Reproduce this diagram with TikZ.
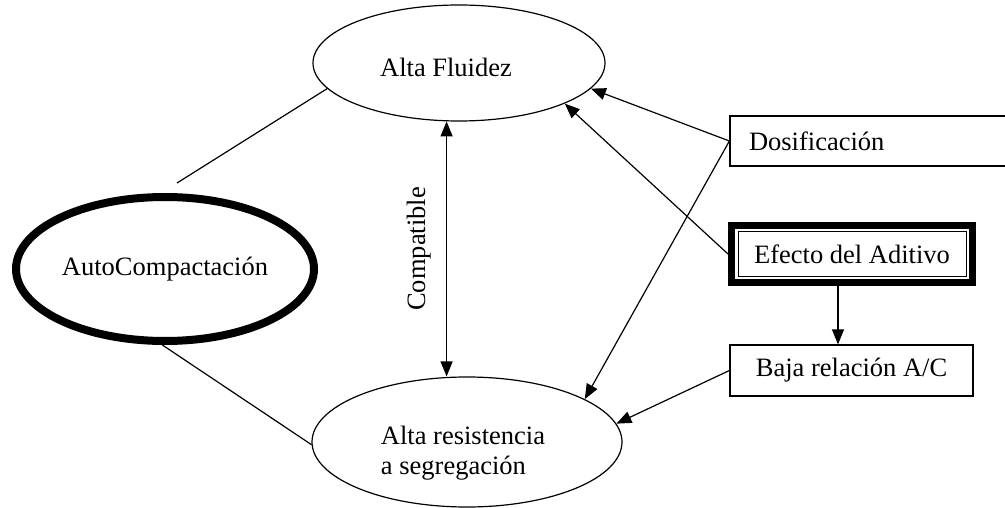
\documentclass[tikz,border=0pt]{standalone}
\usepackage{fontspec}
\setmainfont{Liberation Serif}
\usetikzlibrary{shapes.geometric,arrows.meta}
\begin{document}
\begin{tikzpicture}[x=1pt,y=-1pt,
  every node/.style={font=\fontsize{26.5}{30}\selectfont},
  oval/.style={draw, ellipse, inner sep=0pt, line width=1.2pt},
  box/.style={draw, rectangle, line width=1.2pt},
  conn/.style={line width=1.2pt},
  arr/.style={line width=1.2pt, -{Triangle[length=15pt,width=12pt]}},
]
\useasboundingbox (0,0) rectangle (1005,508);
\clip (0,0) rectangle (1005,508);
\fill[white] (0,0) rectangle (1005,508);

% ellipses
\node[oval, minimum width=292pt, minimum height=116pt] (fluidez) at (459,63) {};
\node at (446,67) {Alta Fluidez};
\node[oval, minimum width=310pt, minimum height=130pt] (res) at (467,442) {};
\node[align=left] at (463,453) {Alta resistencia\\a segregación};
\node[oval, line width=8pt, minimum width=298pt, minimum height=144pt] (auto) at (165,269) {AutoCompactación};

% boxes
\node[box, anchor=west, minimum height=50pt, text width=252pt, inner xsep=19pt, inner ysep=0pt, align=left] (dos) at (729.4,141) {Dosificación};
\node[box, line width=7pt, minimum width=241pt, minimum height=57pt, inner sep=0pt] (efecto) at (852,254) {Efecto del Aditivo};
\draw[line width=1pt] ([xshift=10pt,yshift=-10pt]efecto.north west) rectangle ([xshift=-10pt,yshift=10pt]efecto.south east);
\node[box, minimum width=243pt, minimum height=51pt, inner sep=0pt] (baja) at (851.5,370.5) {Baja relación A/C};

% connectors
\coordinate (afree) at (177,183);
\draw[conn] (afree) -- (fluidez.191);
\draw[conn] (auto.268) -- (res.181);
\draw[line width=1.2pt, {Triangle[length=15pt,width=12pt]}-{Triangle[length=15pt,width=12pt]}]
  (fluidez.258) -- (fluidez.258 |- res.north)
  node[midway, left=12pt, rotate=90, anchor=south] {Compatible};
\draw[arr] (dos.west) -- (fluidez.349);
\draw[arr] (efecto.west) -- (fluidez.339);
\draw[arr] (dos.west) -- (res.20);
\draw[arr] (baja.west) -- (res.7);
\draw[arr] ([xshift=-14pt]efecto.south) -- ([xshift=-14pt]efecto.south |- baja.north);
\end{tikzpicture}
\end{document}
